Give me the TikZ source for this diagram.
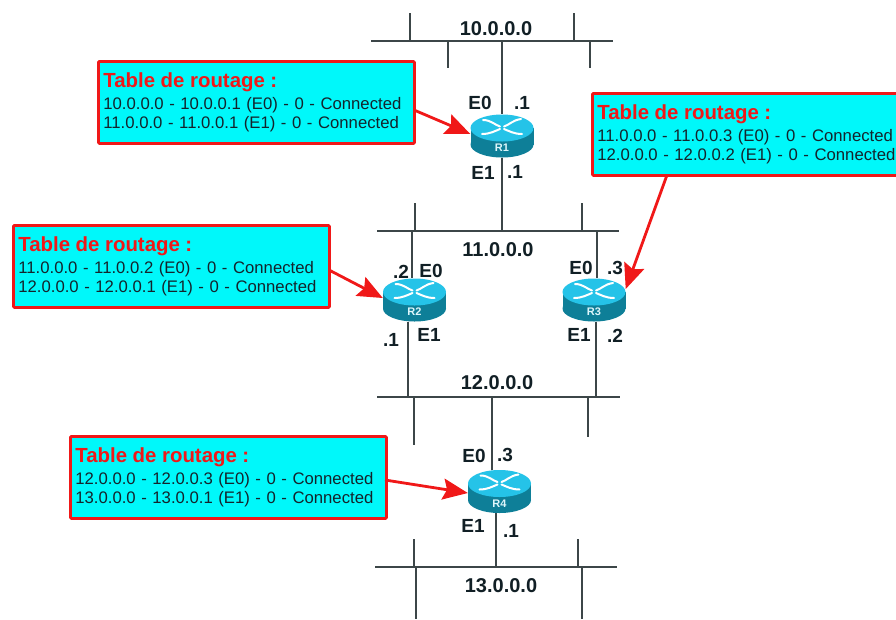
\documentclass[tikz,border=0pt]{standalone}
\usepackage{fontspec}
\setmainfont{Liberation Sans}
\usetikzlibrary{arrows.meta}
\definecolor{netline}{HTML}{3C4648}
\definecolor{boxcyan}{HTML}{00F8FA}
\definecolor{boxred}{HTML}{F01818}
\definecolor{rtop}{HTML}{25C3E8}
\definecolor{rbody}{HTML}{0E7F98}
\definecolor{txtdark}{HTML}{14242C}
\tikzset{
  net/.style={draw=netline,line width=1.6pt},
  tablebox/.style={draw=boxred,fill=boxcyan,line width=2.8pt,rounded corners=1pt,anchor=north west,
    minimum width=316pt,minimum height=82pt,inner sep=0pt,inner xsep=5pt,text width=306pt,align=left,
    text=txtdark,font=\fontsize{16.7}{19.6}\selectfont},
  tablearrow/.style={draw=boxred,line width=2.8pt,-{Stealth[length=25pt,width=21pt,inset=4pt]}},
  netlabel/.style={font=\bfseries\fontsize{20}{20}\selectfont,text=txtdark!85!black,inner sep=0pt},
  iflabel/.style={font=\bfseries\fontsize{19}{19}\selectfont,text=txtdark!85!black,inner sep=0pt},
  routerbox/.style={minimum width=63pt,minimum height=43pt,inner sep=0pt,draw=none},
  routername/.style={font=\bfseries\fontsize{11}{11}\selectfont,text=white!85!rtop,inner sep=0pt},
  rarrow/.style={draw=white,line width=2pt,line cap=round}
}
\newcommand{\routerdraw}[4]{%
  \node[routerbox] (#1) at (#2,#3) {};
  \begin{scope}[shift={(#2,#3)}]
    \fill[rbody] (0,8.5) ellipse [x radius=31.5,y radius=13];
    \fill[rbody] (-31.5,-8) rectangle (31.5,8.5);
    \fill[rtop] (0,-8) ellipse [x radius=31.5,y radius=13.5];
    \draw[rarrow] (-19,-16) .. controls (-11,-16) and (-7,-11) .. (-2,-9.5);
    \draw[rarrow] (19,-17) .. controls (11,-16) and (7,-11) .. (2,-9.5);
    \draw[rarrow] (-20,-2) .. controls (-12,-2) and (-7,-5) .. (-2,-7);
    \draw[rarrow] (20,-2) .. controls (12,-2) and (7,-5) .. (2,-7);
    \node[routername] (#1n) at (0,12) {#4};
  \end{scope}
}
\newcommand{\tablelines}[2]{{\color{boxred}\bfseries\fontsize{20.4}{22}\selectfont Table de routage :}\\[2pt]#1\\#2}
\begin{document}
\begin{tikzpicture}[x=1pt,y=-1pt]
\clip (0,0) rectangle (896,619);
\fill[white] (0,0) rectangle (896,619);
% bus end points
\coordinate (a1) at (371,41);  \coordinate (a2) at (613,41);
\coordinate (b1) at (377,231); \coordinate (b2) at (619,231);
\coordinate (c1) at (377,397); \coordinate (c2) at (620,397);
\coordinate (d1) at (375,567); \coordinate (d2) at (617,567);
\coordinate (a0) at (502,41);
\coordinate (b0) at (502,231);
\coordinate (b3) at (412,231);
\coordinate (b4) at (597,231);
\coordinate (c3) at (408,397);
\coordinate (c4) at (596,397);
\coordinate (c0) at (492,397);
\coordinate (d0) at (496,567);
\draw[net] (a1) -- (a2);
\draw[net] (b1) -- (b2);
\draw[net] (c1) -- (c2);
\draw[net] (d1) -- (d2);
% stubs
\draw[net] (410,13) -- (410,41);
\draw[net] (574,13) -- (574,41);
\draw[net] (448,41) -- (448,68);
\draw[net] (590,41) -- (590,68);
\draw[net] (415,203) -- (415,231);
\draw[net] (582,203) -- (582,231);
\draw[net] (414,397) -- (414,445);
\draw[net] (588,397) -- (588,437);
\draw[net] (414,539) -- (414,567);
\draw[net] (578,539) -- (578,567);
\draw[net] (416,567) -- (416,619);
\draw[net] (582,567) -- (582,619);
% routers
\routerdraw{R1}{502}{136}{R1}
\routerdraw{R2}{414.5}{300}{R2}
\routerdraw{R3}{594}{300}{R3}
\routerdraw{R4}{499.5}{491.5}{R4}
% router links
\draw[net] (a0) -- (R1.north);
\draw[net] (R1.south) -- (b0);
\draw[net] (b3) -- (b3 |- R2.north);
\draw[net] (b4) -- (b4 |- R3.north);
\draw[net] (c3 |- R2.south) -- (c3);
\draw[net] (c4 |- R3.south) -- (c4);
\draw[net] (c0) -- (c0 |- R4.north);
\draw[net] (d0 |- R4.south) -- (d0);
% tables
\node[tablebox] (T1) at (97,60) {\tablelines{10.0.0.0 - 10.0.0.1 (E0) - 0 - Connected}{11.0.0.0 - 11.0.0.1 (E1) - 0 - Connected}};
\node[tablebox] (T2) at (12,224) {\tablelines{11.0.0.0 - 11.0.0.2 (E0) - 0 - Connected}{12.0.0.0 - 12.0.0.1 (E1) - 0 - Connected}};
\node[tablebox] (T3) at (591,92) {\tablelines{11.0.0.0 - 11.0.0.3 (E0) - 0 - Connected}{12.0.0.0 - 12.0.0.2 (E1) - 0 - Connected}};
\node[tablebox] (T4) at (69,435) {\tablelines{12.0.0.0 - 12.0.0.3 (E0) - 0 - Connected}{13.0.0.0 - 13.0.0.1 (E1) - 0 - Connected}};
% arrows
\coordinate (p1) at (414,110);
\coordinate (p2) at (329,270);
\coordinate (p3) at (667,175);
\coordinate (p4) at (385,480);
\draw[tablearrow] (p1) -- (R1.west |- 0,134);
\draw[tablearrow] (p2) -- (R2.west |- 0,298);
\draw[tablearrow] (p3) -- (R3.east |- 0,289);
\draw[tablearrow] (p4) -- (R4.west |- 0,493);
% labels
\node[netlabel] (n10) at (496,29) {10.0.0.0};
\node[netlabel] (n11) at (498,250) {11.0.0.0};
\node[netlabel] (n12) at (497,383) {12.0.0.0};
\node[netlabel] (n13) at (501,586) {13.0.0.0};
\node[iflabel] (l1) at (480,103) {E0};
\node[iflabel] (l2) at (522,103) {.1};
\node[iflabel] (l3) at (483,173) {E1};
\node[iflabel] (l4) at (515,172) {.1};
\node[iflabel] (l5) at (401,272) {.2};
\node[iflabel] (l6) at (431,271) {E0};
\node[iflabel] (l7) at (391,340) {.1};
\node[iflabel] (l8) at (429,335) {E1};
\node[iflabel] (l9) at (581,268) {E0};
\node[iflabel] (l10) at (615,268) {.3};
\node[iflabel] (l11) at (579,335) {E1};
\node[iflabel] (l12) at (615,336) {.2};
\node[iflabel] (l13) at (474,456) {E0};
\node[iflabel] (l14) at (505,455) {.3};
\node[iflabel] (l15) at (473,526) {E1};
\node[iflabel] (l16) at (511,531) {.1};
\end{tikzpicture}
\end{document}
